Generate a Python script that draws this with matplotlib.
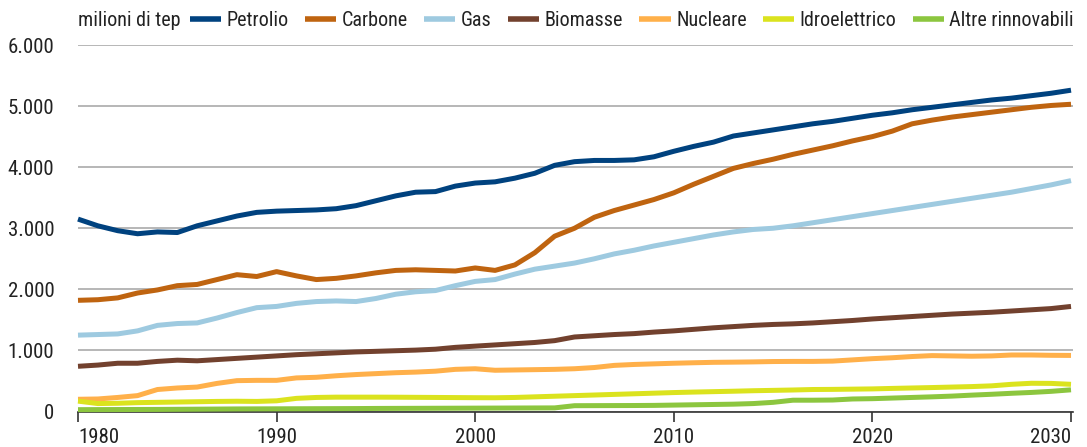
import matplotlib
matplotlib.use("Agg")
import matplotlib.pyplot as plt
from matplotlib import font_manager

years = list(range(1980, 2031))

petrolio = [3150, 3040, 2960, 2910, 2940, 2930, 3040, 3120, 3200, 3260,
            3280, 3290, 3300, 3320, 3370, 3450, 3530, 3590, 3600, 3690,
            3740, 3760, 3820, 3900, 4030, 4090, 4110, 4110, 4120, 4170,
            4260, 4340, 4410, 4510, 4560, 4610, 4660, 4710, 4750, 4800,
            4850, 4890, 4940, 4980, 5020, 5060, 5100, 5130, 5170, 5210, 5260]
carbone = [1820, 1830, 1860, 1940, 1990, 2060, 2080, 2160, 2240, 2210,
           2290, 2220, 2160, 2180, 2220, 2270, 2310, 2320, 2310, 2300,
           2350, 2310, 2400, 2600, 2870, 3000, 3180, 3290, 3380, 3470,
           3580, 3720, 3850, 3980, 4060, 4130, 4210, 4280, 4350, 4430,
           4500, 4590, 4710, 4770, 4820, 4860, 4900, 4940, 4980, 5010, 5030]
gas = [1250, 1260, 1270, 1320, 1410, 1440, 1450, 1530, 1620, 1700,
       1720, 1770, 1800, 1810, 1800, 1850, 1920, 1960, 1980, 2060,
       2130, 2160, 2250, 2330, 2380, 2430, 2500, 2580, 2640, 2710,
       2770, 2830, 2890, 2940, 2980, 3000, 3040, 3090, 3140, 3190,
       3240, 3290, 3340, 3390, 3440, 3490, 3540, 3590, 3650, 3710, 3780]
biomasse = [740, 760, 790, 790, 820, 840, 830, 850, 870, 890,
            910, 930, 945, 960, 975, 985, 995, 1005, 1020, 1050,
            1070, 1090, 1110, 1130, 1160, 1220, 1240, 1260, 1275, 1300,
            1320, 1345, 1370, 1390, 1410, 1425, 1435, 1450, 1470, 1490,
            1515, 1535, 1555, 1575, 1595, 1610, 1625, 1645, 1665, 1685, 1720]
nucleare = [200, 205, 230, 260, 360, 385, 400, 460, 505, 510,
            510, 550, 560, 585, 605, 620, 635, 645, 660, 690,
            700, 675, 680, 685, 690, 700, 720, 755, 770, 780,
            790, 798, 805, 808, 812, 818, 820, 820, 825, 845,
            865, 880, 900, 915, 910, 905, 910, 925, 925, 920, 918]
idroelettrico = [170, 130, 135, 145, 150, 155, 160, 165, 168, 165,
                 175, 215, 230, 235, 235, 235, 234, 232, 230, 228,
                 226, 225, 230, 240, 250, 260, 270, 280, 290, 300,
                 310, 318, 325, 332, 340, 346, 352, 360, 362, 366,
                 370, 378, 385, 392, 400, 408, 420, 445, 462, 460, 445]
altre = [30, 31, 32, 33, 34, 36, 38, 40, 42, 43,
         44, 45, 46, 47, 48, 50, 51, 52, 53, 54,
         55, 56, 57, 58, 59, 95, 96, 97, 98, 100,
         105, 110, 115, 120, 130, 150, 185, 185, 188, 205,
         210, 220, 230, 240, 252, 268, 282, 298, 312, 330, 355]

series_names = ["Petrolio", "Carbone", "Gas", "Biomasse", "Nucleare",
                "Idroelettrico", "Altre rinnovabili"]
series_values = [petrolio, carbone, gas, biomasse, nucleare, idroelettrico, altre]
colors = ["#00427f", "#bf6410", "#9ecae0", "#72412e", "#ffb04a",
          "#dbe31e", "#8cc63f"]

y_ticks = [0, 1000, 2000, 3000, 4000, 5000, 6000]
y_labels = ["0", "1.000", "2.000", "3.000", "4.000", "5.000", "6.000"]
x_ticks = [1980, 1990, 2000, 2010, 2020, 2030]
x_labels = ["1980", "1990", "2000", "2010", "2020", "2030"]
unit_label = "milioni di tep"

avail = {f.name for f in font_manager.fontManager.ttflist}
narrow = None
for cand in ["Liberation Sans Narrow", "Roboto Condensed", "Open Sans Condensed",
             "Arial Narrow", "DejaVu Sans Condensed"]:
    if cand in avail:
        narrow = cand
        break
if narrow == "Liberation Sans Narrow" or narrow in ("Roboto Condensed", "Arial Narrow"):
    plt.rcParams["font.family"] = [narrow, "DejaVu Sans"]
    fs_tick, fs_leg = 15, 14.5
else:
    plt.rcParams["font.family"] = ["Liberation Sans", "DejaVu Sans"]
    fs_tick, fs_leg = 13.5, 13

W, H = 1087, 447
fig = plt.figure(figsize=(W / 100, H / 100), dpi=100)
ax = fig.add_axes([78 / W, 1 - 411.5 / H, (1073 - 78) / W, (411.5 - 45) / H])

for name, vals, c in zip(series_names, series_values, colors):
    ax.plot(years, vals, color=c, lw=3.6, label=name, zorder=3,
            solid_capstyle="butt", clip_on=False)

ax.set_xlim(1980, 2030.1)
ax.set_ylim(0, 6000)
ax.set_yticks(y_ticks)
ax.set_yticklabels(y_labels)
ax.set_xticks(x_ticks)
ax.set_xticklabels(x_labels)
xt = ax.get_xticklabels()
xt[0].set_ha("left")
xt[-1].set_ha("right")

for s in ["top", "right", "left"]:
    ax.spines[s].set_visible(False)
ax.spines["bottom"].set_color("#333333")
ax.spines["bottom"].set_linewidth(1.2)
ax.spines["bottom"].set_zorder(2.5)

ax.grid(axis="y", color="#aaaaaa", lw=1.2)
ax.set_axisbelow(True)
ax.tick_params(axis="y", length=0, pad=17, labelsize=fs_tick, labelcolor="#222222")
ax.tick_params(axis="x", length=7, width=1.2, color="#333333", pad=5,
               labelsize=fs_tick, labelcolor="#222222")

fig.text(78 / W, 1 - 21 / H, unit_label, fontsize=fs_leg, color="#222222",
         va="center", ha="left")
leg = fig.legend(loc="center right", bbox_to_anchor=(1074 / W, 1 - 21 / H),
                 bbox_transform=fig.transFigure, ncol=7, frameon=False,
                 fontsize=fs_leg, handlelength=1.55, handletextpad=0.28,
                 columnspacing=0.8, borderpad=0, borderaxespad=0)
for t in leg.get_texts():
    t.set_color("#222222")
for h in leg.legend_handles:
    h.set_linewidth(4)

fig.savefig("out.png", dpi=100)
